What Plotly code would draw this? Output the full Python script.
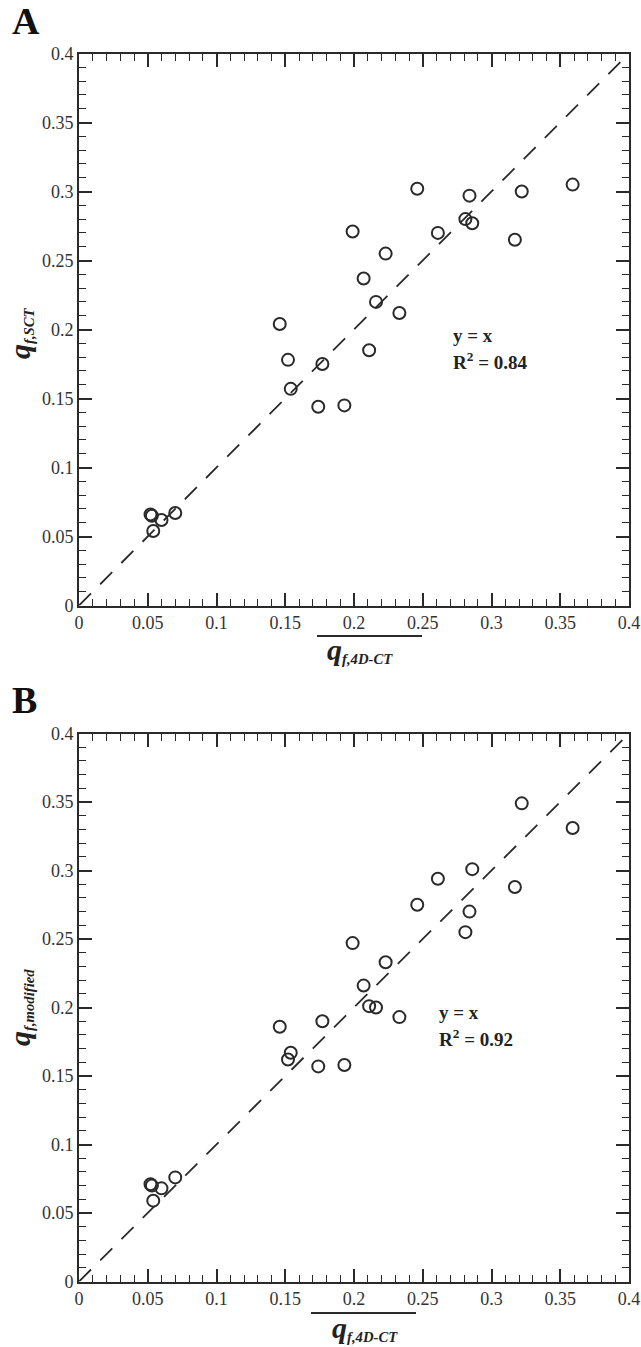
import plotly.graph_objects as go

# ---------------- data ----------------
q_4dct = [0.052, 0.053, 0.054, 0.060, 0.070, 0.146, 0.152, 0.154, 0.174, 0.177,
          0.193, 0.199, 0.207, 0.211, 0.216, 0.223, 0.233, 0.246, 0.261, 0.281,
          0.284, 0.286, 0.317, 0.322, 0.359]
q_sct = [0.066, 0.065, 0.054, 0.062, 0.067, 0.204, 0.178, 0.157, 0.144, 0.175,
         0.145, 0.271, 0.237, 0.185, 0.220, 0.255, 0.212, 0.302, 0.270, 0.280,
         0.297, 0.277, 0.265, 0.300, 0.305]
q_modified = [0.071, 0.070, 0.059, 0.068, 0.076, 0.186, 0.162, 0.167, 0.157, 0.190,
              0.158, 0.247, 0.216, 0.201, 0.200, 0.233, 0.193, 0.275, 0.294, 0.255,
              0.270, 0.301, 0.288, 0.349, 0.331]
identity = [0.0, 0.4]
tick_vals = [0, 0.05, 0.1, 0.15, 0.2, 0.25, 0.3, 0.35, 0.4]
tick_text = ["0", "0.05", "0.1", "0.15", "0.2", "0.25", "0.3", "0.35", "0.4"]
r2_a = "0.84"
r2_b = "0.92"

W, H = 641, 1347
def px(x):  # pixel x -> paper
    return x / W
def py(y):  # pixel y (from top) -> paper
    return 1 - y / H

INK = "#2a2a2a"
SERIF = "Liberation Serif"

fig = go.Figure()

for i, ys in enumerate([q_sct, q_modified]):
    xa = "x" if i == 0 else "x2"
    ya = "y" if i == 0 else "y2"
    fig.add_trace(go.Scatter(x=identity, y=identity, mode="lines", xaxis=xa, yaxis=ya,
                             line=dict(color=INK, width=1.8, dash="17px,13px"),
                             hoverinfo="skip"))
    fig.add_trace(go.Scatter(x=q_4dct, y=ys, mode="markers", xaxis=xa, yaxis=ya,
                             marker=dict(symbol="circle-open", size=12, color=INK,
                                         line=dict(width=2, color=INK))))

axis_common = dict(range=[0, 0.4], tickvals=tick_vals, ticktext=tick_text,
                   ticks="inside", ticklen=13, tickwidth=2, tickcolor=INK,
                   minor=dict(ticks="inside", ticklen=7, tickwidth=1, tickcolor=INK, dtick=0.01),
                   showline=True, linewidth=2, linecolor=INK, mirror="ticks",
                   showgrid=False, zeroline=False, automargin=False,
                   tickfont=dict(family=SERIF, size=18, color="#333"))

xdom = [px(79), px(629)]
fig.update_layout(
    width=W, height=H, margin=dict(l=0, r=0, t=0, b=0),
    paper_bgcolor="white", plot_bgcolor="white", showlegend=False,
    font=dict(family=SERIF),
    xaxis=dict(domain=xdom, anchor="y", **axis_common),
    yaxis=dict(domain=[py(605.5), py(53.5)], anchor="x", **axis_common),
    xaxis2=dict(domain=xdom, anchor="y2", **axis_common),
    yaxis2=dict(domain=[py(1281.5), py(733.5)], anchor="x2", **axis_common),
)

def title_text(sub):
    return ('<b><i><span style="font-size:30px">q</span>'
            '<sub>' + sub + '</sub></i></b>')

ann = []
# panel letters
ann.append(dict(text="<b>A</b>", x=px(10), y=py(21), xref="paper", yref="paper",
                xanchor="left", yanchor="middle", showarrow=False,
                font=dict(family=SERIF, size=38, color="#111")))
ann.append(dict(text="<b>B</b>", x=px(10), y=py(700), xref="paper", yref="paper",
                xanchor="left", yanchor="middle", showarrow=False,
                font=dict(family=SERIF, size=38, color="#111")))
# axis titles
ann.append(dict(text=title_text("f,SCT"), x=px(20), y=py(333), xref="paper", yref="paper",
                textangle=-90, xanchor="center", yanchor="middle", showarrow=False,
                font=dict(family=SERIF, size=21, color="#222")))
ann.append(dict(text=title_text("f,modified"), x=px(20), y=py(1008), xref="paper", yref="paper",
                textangle=-90, xanchor="center", yanchor="middle", showarrow=False,
                font=dict(family=SERIF, size=21, color="#222")))
ann.append(dict(text=title_text("f,4D-CT"), x=px(360), y=py(650), xref="paper", yref="paper",
                xanchor="center", yanchor="middle", showarrow=False,
                font=dict(family=SERIF, size=21, color="#222")))
ann.append(dict(text=title_text("f,4D-CT"), x=px(365), y=py(1328), xref="paper", yref="paper",
                xanchor="center", yanchor="middle", showarrow=False,
                font=dict(family=SERIF, size=21, color="#222")))
# fit annotations
for xr, yr, xv, y1, y2, r2 in [("x", "y", 0.2703, 0.1953, 0.1772, r2_a),
                              ("x2", "y2", 0.260, 0.1967, 0.1774, r2_b)]:
    ann.append(dict(text="<b>y = x</b>", x=xv, y=y1, xref=xr, yref=yr,
                    xanchor="left", yanchor="middle", showarrow=False,
                    font=dict(family=SERIF, size=19, color="#222")))
    ann.append(dict(text="<b>R<sup>2</sup> = " + r2 + "</b>", x=xv, y=y2, xref=xr, yref=yr,
                    xanchor="left", yanchor="middle", showarrow=False,
                    font=dict(family=SERIF, size=19, color="#222")))
fig.update_layout(annotations=ann)

# overlines above the x-axis titles
fig.add_shape(type="line", xref="paper", yref="paper", x0=px(317), x1=px(422),
              y0=py(636), y1=py(636), line=dict(color=INK, width=2))
fig.add_shape(type="line", xref="paper", yref="paper", x0=px(311), x1=px(416),
              y0=py(1313), y1=py(1313), line=dict(color=INK, width=2))

fig.write_html("out.html", config={"displayModeBar": False},
               post_script="document.body.style.margin='0px';document.body.style.overflow='hidden';")
